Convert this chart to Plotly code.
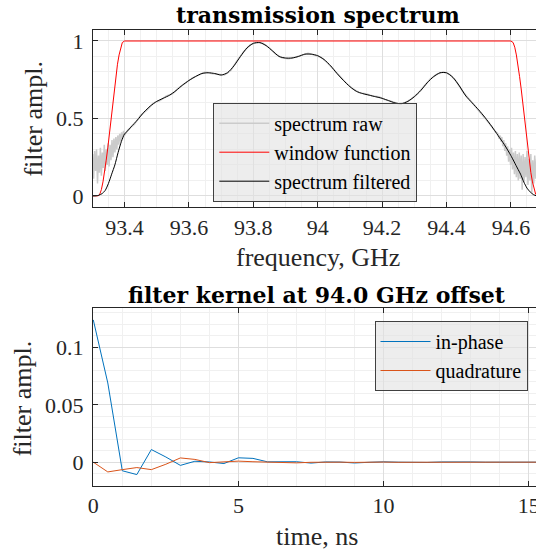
import numpy as np
import plotly.graph_objects as go

# ---------------- data: transmission spectrum ----------------
freq_filt = [93.298, 93.31, 93.32, 93.33, 93.34, 93.35, 93.36, 93.37, 93.38, 93.39,
             93.40, 93.41, 93.42, 93.44, 93.46, 93.48, 93.50, 93.52, 93.54, 93.56,
             93.58, 93.60, 93.62, 93.64, 93.66, 93.68, 93.70, 93.72, 93.74, 93.76,
             93.78, 93.80, 93.82, 93.84, 93.86, 93.88, 93.90, 93.92, 93.94, 93.96,
             93.98, 94.00, 94.02, 94.04, 94.06, 94.08, 94.10, 94.12, 94.14, 94.16,
             94.18, 94.20, 94.22, 94.24, 94.26, 94.28, 94.30, 94.32, 94.34, 94.36,
             94.38, 94.40, 94.42, 94.44, 94.46, 94.48, 94.50, 94.52, 94.54, 94.56,
             94.58, 94.60, 94.62, 94.63, 94.64, 94.65, 94.66, 94.67, 94.68, 94.72]
amp_filt = [0.0, 0.0, 0.004, 0.014, 0.035, 0.08, 0.14, 0.2, 0.28, 0.35,
            0.40, 0.42, 0.445, 0.49, 0.54, 0.58, 0.61, 0.63, 0.65, 0.68,
            0.715, 0.745, 0.77, 0.79, 0.795, 0.79, 0.78, 0.795, 0.84, 0.90,
            0.955, 0.985, 0.99, 0.97, 0.935, 0.90, 0.89, 0.89, 0.90, 0.915,
            0.915, 0.905, 0.88, 0.84, 0.79, 0.745, 0.705, 0.675, 0.66, 0.65,
            0.64, 0.63, 0.615, 0.60, 0.595, 0.61, 0.64, 0.68, 0.73, 0.77,
            0.795, 0.795, 0.765, 0.71, 0.645, 0.60, 0.555, 0.505, 0.45, 0.39,
            0.33, 0.26, 0.18, 0.14, 0.09, 0.05, 0.025, 0.008, 0.0, 0.0]

freq_win = [93.298, 93.318, 93.323, 93.328, 93.333, 93.338, 93.343, 93.348, 93.353, 93.358,
            93.363, 93.368, 93.373, 93.378, 93.383, 93.388, 93.393, 93.40,
            94.60, 94.607, 94.612, 94.617, 94.622, 94.627, 94.632, 94.637, 94.642, 94.647,
            94.652, 94.657, 94.662, 94.667, 94.672, 94.677, 94.682, 94.72]
amp_win = [0.0, 0.0, 0.01, 0.04, 0.09, 0.15, 0.23, 0.31, 0.4, 0.5,
           0.6, 0.69, 0.77, 0.85, 0.91, 0.96, 0.99, 1.0,
           1.0, 0.99, 0.96, 0.91, 0.85, 0.77, 0.69, 0.6, 0.5, 0.4,
           0.31, 0.23, 0.15, 0.09, 0.04, 0.01, 0.0, 0.0]

raw_left_start, raw_left_step = 93.298, 0.003
raw_left_amp = [0.14, 0.27, 0.11, 0.29, 0.16, 0.30, 0.08, 0.26, 0.15, 0.31,
                0.13, 0.28, 0.18, 0.33, 0.16, 0.30, 0.20, 0.34, 0.19, 0.33,
                0.23, 0.36, 0.25, 0.37, 0.28, 0.38, 0.30, 0.39, 0.33, 0.40,
                0.35, 0.41, 0.37, 0.42, 0.39]
raw_mid_start, raw_mid_step = 93.41, 0.02
raw_mid_amp = [0.425, 0.46, 0.52, 0.555, 0.60, 0.615, 0.645, 0.66, 0.70, 0.73,
               0.76, 0.78, 0.80, 0.79, 0.785, 0.78, 0.81, 0.875, 0.93, 0.975,
               0.99, 0.985, 0.955, 0.915, 0.89, 0.885, 0.895, 0.91, 0.92, 0.91,
               0.895, 0.86, 0.815, 0.765, 0.725, 0.69, 0.665, 0.66, 0.645, 0.64,
               0.62, 0.61, 0.595, 0.60, 0.625, 0.66, 0.705, 0.755, 0.785, 0.80,
               0.785, 0.74, 0.675, 0.625, 0.58, 0.53, 0.475, 0.42]
raw_right_start, raw_right_step = 94.56, 0.003
raw_right_amp = [0.40, 0.37, 0.39, 0.35, 0.38, 0.32, 0.36, 0.29, 0.34, 0.26,
                 0.32, 0.22, 0.30, 0.20, 0.31, 0.17, 0.28, 0.14, 0.29, 0.12,
                 0.27, 0.10, 0.28, 0.11, 0.26, 0.04, 0.27, 0.09, 0.25, 0.12,
                 0.29, 0.07, 0.24, 0.10, 0.27, 0.02, 0.23, 0.08, 0.26, 0.11,
                 0.24, 0.06, 0.27, 0.09, 0.22, 0.12, 0.25, 0.05, 0.21, 0.10,
                 0.24, 0.08, 0.22, 0.11, 0.20]

freq_ticks = [93.4, 93.6, 93.8, 94.0, 94.2, 94.4, 94.6]
freq_ticktext = ["93.4", "93.6", "93.8", "94", "94.2", "94.4", "94.6"]
amp_ticks = [0, 0.5, 1]
amp_ticktext = ["0", "0.5", "1"]

# ---------------- data: filter kernel ----------------
t_start, t_step = 0.0, 0.5
kern_inphase = [0.124, 0.069, -0.0075, -0.0108, 0.011, 0.0045, -0.0028, 0.0008, 0.0002, -0.0012,
                0.0038, 0.0033, 0.0003, 0.0002, 0.0004, -0.0008, 0.0002, 0.0001, -0.0007, -0.0001,
                0.0003, 0.0, -0.0003, -0.0002, 0.0002, -0.0001, 0.0002, 0.0, -0.0001, 0.0,
                0.0001, 0.0, 0.0]
kern_quad = [0.0, -0.0085, -0.0065, -0.0047, -0.0065, -0.0018, 0.0037, 0.0024, -0.0004, 0.0003,
             0.0009, 0.0004, 0.0001, -0.0002, -0.0006, -0.0001, 0.0002, 0.0, -0.0002, 0.0001,
             0.0001, -0.0001, 0.0, 0.0001, 0.0, -0.0001, 0.0, 0.0, 0.0, 0.0,
             0.0, 0.0, 0.0]
time_ticks = [0, 5, 10, 15]
kern_ticks = [0, 0.05, 0.1]
kern_ticktext = ["0", "0.05", "0.1"]

# ---------------- build ----------------
raw_freq = (list(raw_left_start + raw_left_step * np.arange(len(raw_left_amp)))
            + list(raw_mid_start + raw_mid_step * np.arange(len(raw_mid_amp)))
            + list(raw_right_start + raw_right_step * np.arange(len(raw_right_amp))))
raw_amp = raw_left_amp + raw_mid_amp + raw_right_amp
t_ns = list(t_start + t_step * np.arange(len(kern_inphase)))

AX = "#262626"
GRID = "#dedede"
MINOR = "#f0f0f0"
SERIF = "Liberation Serif"

fig = go.Figure()
fig.add_trace(go.Scatter(x=raw_freq, y=raw_amp, mode="lines", name="spectrum raw",
                         line=dict(color="#cbcbcb", width=1.5), xaxis="x", yaxis="y", legend="legend"))
fig.add_trace(go.Scatter(x=freq_win, y=amp_win, mode="lines", name="window function",
                         line=dict(color="#ff0000", width=1),
                         xaxis="x", yaxis="y", legend="legend"))
fig.add_trace(go.Scatter(x=freq_filt, y=amp_filt, mode="lines", name="spectrum filtered",
                         line=dict(color="#000000", width=1, shape="spline", smoothing=0.6),
                         xaxis="x", yaxis="y", legend="legend"))
fig.add_trace(go.Scatter(x=t_ns, y=kern_inphase, mode="lines", name="in-phase",
                         line=dict(color="#0072BD", width=1), xaxis="x2", yaxis="y2", legend="legend2"))
fig.add_trace(go.Scatter(x=t_ns, y=kern_quad, mode="lines", name="quadrature",
                         line=dict(color="#D95319", width=1), xaxis="x2", yaxis="y2", legend="legend2"))

W, H = 536, 553
L = 93
def px(x):
    return (x - L) / (W - L)
def py(y):
    return 1 - y / H

common = dict(showline=True, linecolor=AX, linewidth=1, ticks="inside", ticklen=5,
              tickcolor=AX, tickwidth=1, showgrid=True, gridcolor=GRID, gridwidth=1,
              zeroline=False, ticklabeloverflow="allow", automargin=False,
              tickfont=dict(family=SERIF, size=22, color=AX))

fig.update_layout(
    width=W, height=H, margin=dict(l=L, r=0, t=0, b=0, autoexpand=False),
    paper_bgcolor="white", plot_bgcolor="white",
    font=dict(family=SERIF, size=22, color=AX),
    xaxis=dict(domain=[0, 1], anchor="y", range=[93.302, 94.678], tickvals=freq_ticks,
               ticktext=freq_ticktext, mirror="ticks", ticklabelstandoff=0,
               minor=dict(dtick=0.05, tick0=93.4, showgrid=True, gridcolor=MINOR, ticks=""),
               **common),
    yaxis=dict(domain=[py(207.3), py(30)], anchor="x", range=[-0.074, 1.071],
               tickvals=amp_ticks, ticktext=amp_ticktext, mirror=False, ticklabelstandoff=4,
               minor=dict(dtick=0.1, tick0=0, showgrid=True, gridcolor=MINOR, ticks=""),
               **common),
    xaxis2=dict(domain=[0, 1], anchor="y2", range=[-0.01, 15.25], tickvals=time_ticks,
                mirror="ticks", ticklabelstandoff=0,
                minor=dict(dtick=1, tick0=0, showgrid=True, gridcolor=MINOR, ticks=""),
                **common),
    yaxis2=dict(domain=[py(485.7), py(308.4)], anchor="x2", range=[-0.0205, 0.134],
                tickvals=kern_ticks, ticktext=kern_ticktext, mirror=False, ticklabelstandoff=4,
                minor=dict(dtick=0.01, tick0=0, showgrid=True, gridcolor=MINOR, ticks=""),
                **common),
    legend=dict(x=px(315.3), xanchor="center", y=py(201.7), yanchor="bottom",
                bgcolor="rgba(225,225,225,0.6)", bordercolor="#404040", borderwidth=1,
                font=dict(family=SERIF, size=20, color="#000000"), itemwidth=50,
                tracegroupgap=0),
    legend2=dict(x=px(527.5), xanchor="right", y=py(321), yanchor="top",
                 bgcolor="rgba(225,225,225,0.6)", bordercolor="#404040", borderwidth=1,
                 font=dict(family=SERIF, size=20, color="#000000"), itemwidth=50,
                 tracegroupgap=0),
    showlegend=True,
)

annos = [
    dict(text="<b>transmission spectrum</b>", x=px(317.5), y=py(15), font=dict(family="DejaVu Serif", size=22, color="#000")),
    dict(text="<b>filter kernel at 94.0 GHz offset</b>", x=px(317), y=py(295), font=dict(family="DejaVu Serif", size=22, color="#000")),
    dict(text="frequency, GHz", x=px(317.5), y=py(257.5), font=dict(family=SERIF, size=26, color=AX)),
    dict(text="time, ns", x=px(317), y=py(536.5), font=dict(family=SERIF, size=26, color=AX)),
    dict(text="filter ampl.", x=px(33.3), y=py(118.3), textangle=-90, font=dict(family=SERIF, size=26, color=AX)),
    dict(text="filter ampl.", x=px(22.8), y=py(398.5), textangle=-90, font=dict(family=SERIF, size=26, color=AX)),
]
for a in annos:
    fig.add_annotation(xref="paper", yref="paper", xanchor="center", yanchor="middle",
                       showarrow=False, **a)

clip_js = (
    "document.documentElement.style.overflow='hidden';"
    "document.body.style.margin='0';document.body.style.overflow='hidden';"
)
fig.write_html("out.html", config={"displayModeBar": False}, post_script=clip_js)
